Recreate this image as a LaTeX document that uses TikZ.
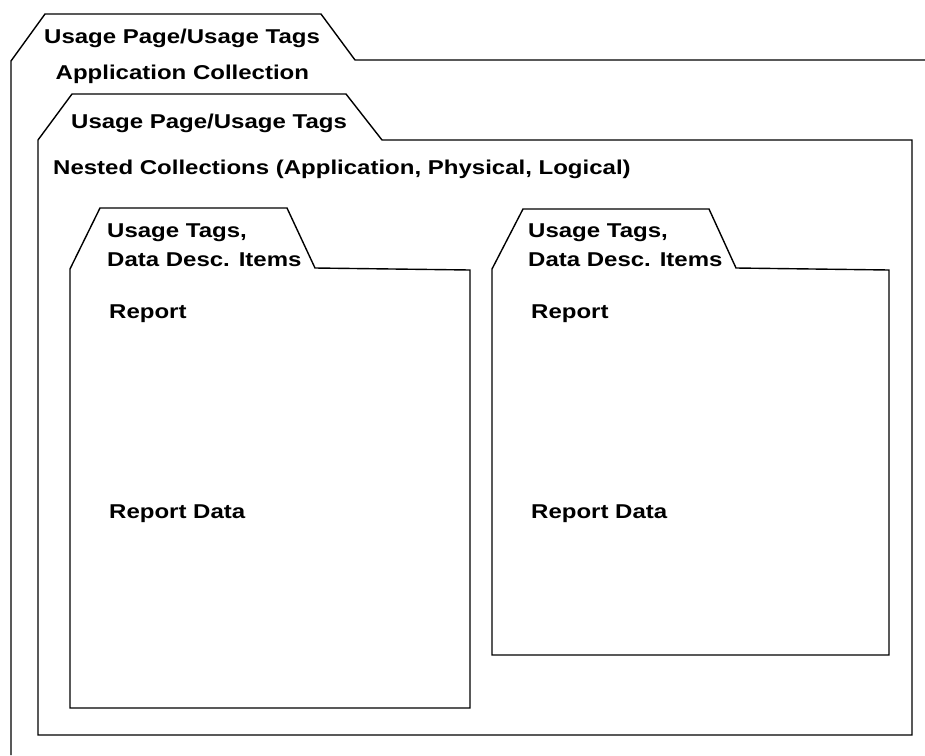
\documentclass[tikz,border=0pt]{standalone}
\usepackage{fontspec}
\usepackage{graphicx}
\setmainfont{Liberation Sans}
\newcommand{\wide}[1]{\scalebox{1.2}[1]{#1}}
\tikzset{
  folder/.style={draw=black, line width=1.4pt, line join=miter},
  lbl/.style={anchor=base west, inner sep=0pt, font=\fontsize{20}{24}\selectfont\bfseries},
}
\begin{document}
\begin{tikzpicture}[x=1pt,y=-1pt]
\useasboundingbox (0,0) rectangle (925,755);
% outer folder
\draw[folder] (11,755) -- (11,61) -- (45,14) -- (321,14) -- (355,60) -- (925,60);
% middle folder
\draw[folder] (38,140) -- (72,94) -- (346,94) -- (382,140) -- (912,140) -- (912,735) -- (38,735) -- cycle;
% left inner folder
\draw[folder] (70,269) -- (100,208) -- (287,208) -- (315,268) -- (470,270) -- (470,708) -- (70,708) -- cycle;
% right inner folder
\draw[folder] (492,269) -- (523,209) -- (709,209) -- (736,268) -- (889,270) -- (889,655) -- (492,655) -- cycle;
% texts
\node[lbl] (t1) at (44,43.5) {\wide{Usage Page/Usage Tags}};
\node[lbl] (t2) at (55.5,79.5) {\wide{Application Collection}};
\node[lbl] (t3) at (71,128) {\wide{Usage Page/Usage Tags}};
\node[lbl] (t4) at (53,174) {\wide{Nested Collections (Application, Physical, Logical)}};
\node[lbl] (l1) at (107,237.5) {\wide{Usage Tags,}};
\node[lbl] (l2) at (107,266.5) {\wide{Data Desc. Items}};
\node[lbl] (l3) at (109,318) {\wide{Report}};
\node[lbl] (l4) at (109,518) {\wide{Report Data}};
\node[lbl] (r1) at (528,237.5) {\wide{Usage Tags,}};
\node[lbl] (r2) at (528,266.5) {\wide{Data Desc. Items}};
\node[lbl] (r3) at (531,318) {\wide{Report}};
\node[lbl] (r4) at (531,518) {\wide{Report Data}};
\end{tikzpicture}
\end{document}
